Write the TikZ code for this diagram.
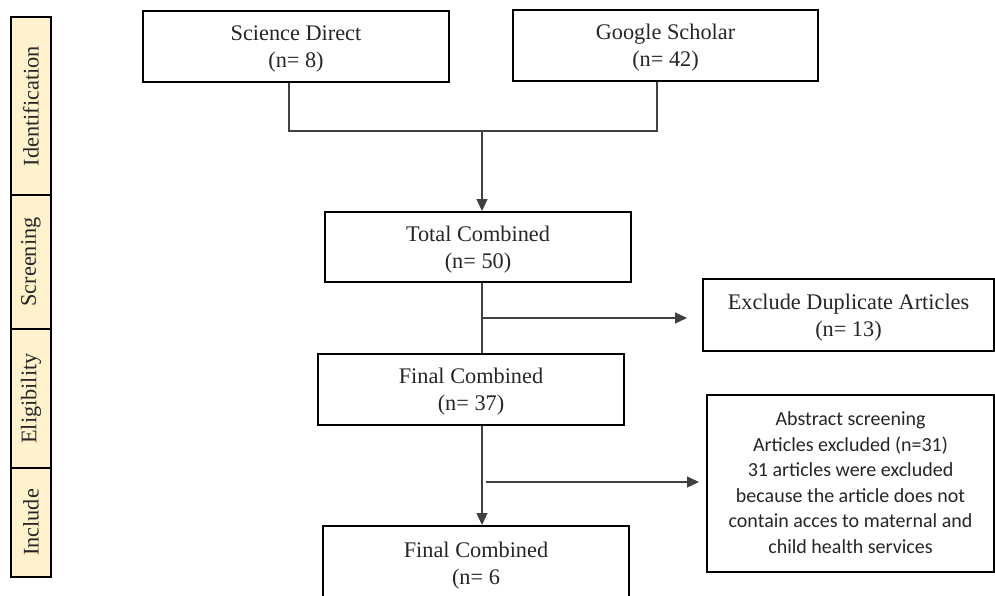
\documentclass[tikz,border=0pt]{standalone}
\usepackage{fontspec}
\usepackage{xcolor}
\usepackage{tikz}
\usetikzlibrary{arrows.meta,calc}
\setmainfont{Liberation Serif}
\newfontfamily\boxsans{Carlito}
\definecolor{phaseFill}{HTML}{FFF2CC}
\colorlet{lineColor}{black!75}
\colorlet{textColor}{black!85}

\begin{document}
\begin{tikzpicture}[
x=1pt,y=-1pt,
box/.style={draw,line width=2pt,fill=white,align=center,inner sep=0pt,
  text depth=-2pt,text=textColor,font=\fontsize{22.3}{27}\selectfont},
phase/.style={draw,line width=1.6pt,fill=phaseFill,inner sep=0pt,rotate=90,
  minimum height=40pt,text=textColor,font=\fontsize{22.3}{27}\selectfont},
link/.style={draw=lineColor,line width=1.2pt},
arrow/.style={link,-{Triangle[length=12pt,width=11pt]}},
]
\useasboundingbox (0,0) rectangle (995,595);
\clip (0,0) rectangle (995,595);

% phase bars
\node[phase,minimum width=178pt] (ident) at (31,106) {Identification};
\node[phase,minimum width=134pt] (screen) at (31,262) {Screening};
\node[phase,minimum width=139pt] (elig) at (31,398.5) {Eligibility};
\node[phase,minimum width=109pt] (incl) at (31,522.5) {Include};

% boxes
\node[box,minimum width=306pt,minimum height=71pt] (sd) at (296,46.5)
  {Science Direct\\(n= 8)};
\node[box,minimum width=305pt,minimum height=71pt] (gs) at (665.5,45.5)
  {Google Scholar\\(n= 42)};
\node[box,minimum width=306pt,minimum height=70pt] (total) at (478,247)
  {Total Combined\\(n= 50)};
\node[box,minimum width=306pt,minimum height=71pt] (final) at (471,389.5)
  {Final Combined\\(n= 37)};
\node[box,minimum width=306pt,minimum height=74pt] (last) at (476,563)
  {Final Combined\\(n= 6};
\node[box,minimum width=291pt,minimum height=72pt] (excl) at (848.5,315)
  {Exclude Duplicate Articles\\(n= 13)};
\node[box,minimum width=287pt,minimum height=177pt,text depth=2pt,
  font=\boxsans\fontsize{20}{25.5}\selectfont] (abs) at (850.5,483.5)
  {Abstract screening\\Articles excluded (n=31)\\31 articles were excluded\\
   because the article does not\\contain acces to maternal and\\child health services};

% connectors
\coordinate (join) at (482,131);
\coordinate (b1) at (482,318);
\coordinate (b2) at (486,482);
\draw[link] ([xshift=-7pt]sd.south) |- (join) -| ([xshift=-8.5pt]gs.south);
\draw[arrow] (join) -- (join |- total.north);
\draw[link] (total.south -| join) -- (final.north -| join);
\draw[arrow,shorten >=15pt] (b1) -- (b1 -| excl.west);
\draw[arrow] (final.south -| join) -- (last.north -| join);
\draw[arrow,shorten >=7pt] (b2) -- (b2 -| abs.west);
\end{tikzpicture}
\end{document}
